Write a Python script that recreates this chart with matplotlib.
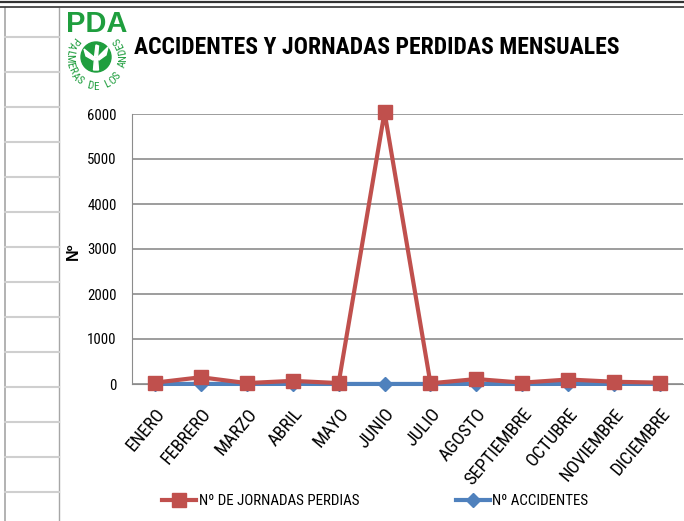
import numpy as np
import matplotlib.pyplot as plt
from matplotlib import font_manager as fm
from matplotlib.lines import Line2D
from matplotlib.patches import Circle, Polygon

W, H = 684, 521

MONTHS = ["ENERO", "FEBRERO", "MARZO", "ABRIL", "MAYO", "JUNIO", "JULIO",
          "AGOSTO", "SEPTIEMBRE", "OCTUBRE", "NOVIEMBRE", "DICIEMBRE"]
JORNADAS = [30, 150, 20, 70, 20, 6040, 15, 110, 30, 100, 50, 30]
ACCIDENTES = [1, 2, 1, 2, 1, 1, 1, 2, 1, 2, 2, 1]
Y_TICKS = [0, 1000, 2000, 3000, 4000, 5000, 6000]

TITLE = "ACCIDENTES Y JORNADAS PERDIDAS MENSUALES"
LABEL_RED = "Nº DE JORNADAS PERDIAS"
LABEL_BLUE = "Nº ACCIDENTES"
LOGO_TEXT = "PALMERAS DE LOS ANDES"

RED = "#C0504D"
BLUE = "#4F81BD"
GREEN = "#1F9E3E"
GRID = "#8C8C8C"
PLAIN = ["Liberation Sans", "DejaVu Sans"]


def pick_narrow():
    names = {f.name for f in fm.fontManager.ttflist}
    for cand in ["Liberation Sans Narrow", "Roboto Condensed", "Noto Sans Condensed",
                 "Open Sans Condensed", "Arial Narrow"]:
        if cand in names:
            return cand, "normal"
    for f in fm.fontManager.ttflist:
        if f.name == "Noto Sans" and "condensed" in str(f.stretch):
            return "Noto Sans", "condensed"
    return "Roboto", "normal"


NARROW, STRETCH = pick_narrow()
FONT = [NARROW, "DejaVu Sans"]


def fx(x):
    return x / W


def fy(y):
    return 1 - y / H


def fit_size(fig, text, target_px, size, weight="normal", max_size=None):
    t = fig.text(0, 0, text, fontsize=size, fontweight=weight, family=FONT,
                 fontstretch=STRETCH)
    w = t.get_window_extent(fig.canvas.get_renderer()).width
    t.remove()
    new = size * target_px / w
    if max_size is not None:
        new = min(new, max_size)
    return new


def fig_line(fig, x0, y0, x1, y1, color, lw):
    fig.add_artist(Line2D([fx(x0), fx(x1)], [fy(y0), fy(y1)],
                          transform=fig.transFigure, color=color, lw=lw))


def draw_sheet(fig):
    # spreadsheet cells on the left
    fig_line(fig, 5, 8, 5, H, "#A6A6A6", 1.2)
    fig_line(fig, 59, 8, 59, H, "#A6A6A6", 1.0)
    for k in range(14):
        y = 37.3 + 35 * k
        fig_line(fig, 5, y, 59, y, "#CFCFCF", 1.5)
    # double line at the top
    fig_line(fig, 0, 1.5, W, 1.5, "#333333", 1.6)
    fig_line(fig, 0, 6.5, W, 6.5, "#333333", 1.2)


def draw_logo(fig):
    fig.text(fx(66), fy(24), "PDA", color=GREEN, fontsize=21, fontweight="heavy",
             family=PLAIN, ha="left", va="center")

    ax = fig.add_axes([fx(55), fy(95), fx(135) - fx(55), (95 - 30) / H])
    ax.set_xlim(55, 135)
    ax.set_ylim(95, 30)
    ax.axis("off")
    cx, cy, r = 96, 57, 15
    ax.add_patch(Circle((cx, cy), r, color=GREEN))
    # white palm / bird shape in the middle
    shapes = [
        [(-1, 1), (-12, -8), (-10, -1), (-3, 3)],
        [(1, 1), (12, -10), (10, -2), (3, 3)],
        [(-1.5, 0), (0, -12), (2.5, -11), (1.5, 0)],
        [(-1.5, 1), (1.5, 1), (2.5, 13), (-2.5, 13)],
    ]
    for pts in shapes:
        ax.add_patch(Polygon([(cx + a, cy + b) for a, b in pts], color="white"))

    # curved text around the circle
    rx, ry, tcx, tcy = 27, 29, 96, 58
    n = len(LOGO_TEXT)
    angles = np.linspace(142, 398, n)
    for ch, a in zip(LOGO_TEXT, angles):
        t = np.radians(a)
        ax.text(tcx + rx * np.cos(t), tcy - ry * np.sin(t), ch, color=GREEN,
                fontsize=8, rotation=a + 90, ha="center", va="center",
                family=FONT, fontstretch=STRETCH)


def main():
    fig = plt.figure(figsize=(W / 100, H / 100), dpi=100)
    fig.patch.set_facecolor("white")

    draw_sheet(fig)
    draw_logo(fig)

    title_size = fit_size(fig, TITLE, 485, 20, weight="bold")
    tick_size = fit_size(fig, "SEPTIEMBRE", 94, 11, max_size=14)
    num_size = fit_size(fig, "6000", 30, 10.5, max_size=12.5)
    leg_size = fit_size(fig, LABEL_RED, 161, 11, max_size=12.5)

    fig.text(fx(377), fy(47), TITLE, fontsize=title_size, fontweight="bold",
             family=FONT, fontstretch=STRETCH, ha="center", va="center")

    ax = fig.add_axes([fx(132), fy(384), fx(683) - fx(132), (384 - 114) / H])
    x = np.arange(len(MONTHS))

    ax.plot(x, ACCIDENTES, color=BLUE, lw=3, marker="D", markersize=7,
            label=LABEL_BLUE, clip_on=False, zorder=3)
    ax.plot(x, JORNADAS, color=RED, lw=3, marker="s", markersize=10,
            label=LABEL_RED, clip_on=False, zorder=4)

    ax.set_xlim(-0.5, len(MONTHS) - 0.5)
    ax.set_ylim(0, 6000)
    ax.set_yticks(Y_TICKS)
    ax.set_yticklabels([str(v) for v in Y_TICKS], family=FONT, fontstretch=STRETCH,
                       fontsize=num_size)
    ax.set_xticks(x)
    ax.set_xticklabels(MONTHS, family=FONT, fontstretch=STRETCH, fontsize=tick_size,
                       rotation=50, ha="right", va="top", rotation_mode="anchor")
    ax.tick_params(axis="y", length=0, pad=11)
    ax.tick_params(axis="x", length=0, pad=15)
    ax.grid(axis="y", color=GRID, lw=1.2)
    ax.set_axisbelow(True)
    for side in ("top", "right"):
        ax.spines[side].set_visible(False)
    ax.spines["left"].set_color(GRID)
    ax.spines["bottom"].set_color(GRID)

    fig.text(fx(73), fy(251), "Nº", fontsize=11.5, fontweight="bold",
             rotation=90, ha="center", va="center", family=PLAIN)

    handles, labels = ax.get_legend_handles_labels()
    em = leg_size * 100 / 72
    fig.legend(handles[::-1], labels[::-1], loc="center left",
               bbox_to_anchor=(fx(162), fy(501)), ncol=2, frameon=False,
               prop={"family": FONT, "size": leg_size, "stretch": STRETCH},
               handlelength=34 / em, handletextpad=3 / em,
               columnspacing=96 / em, numpoints=1, borderpad=0, borderaxespad=0)

    fig.savefig("out.png", dpi=100)
    plt.close(fig)


if __name__ == "__main__":
    main()
